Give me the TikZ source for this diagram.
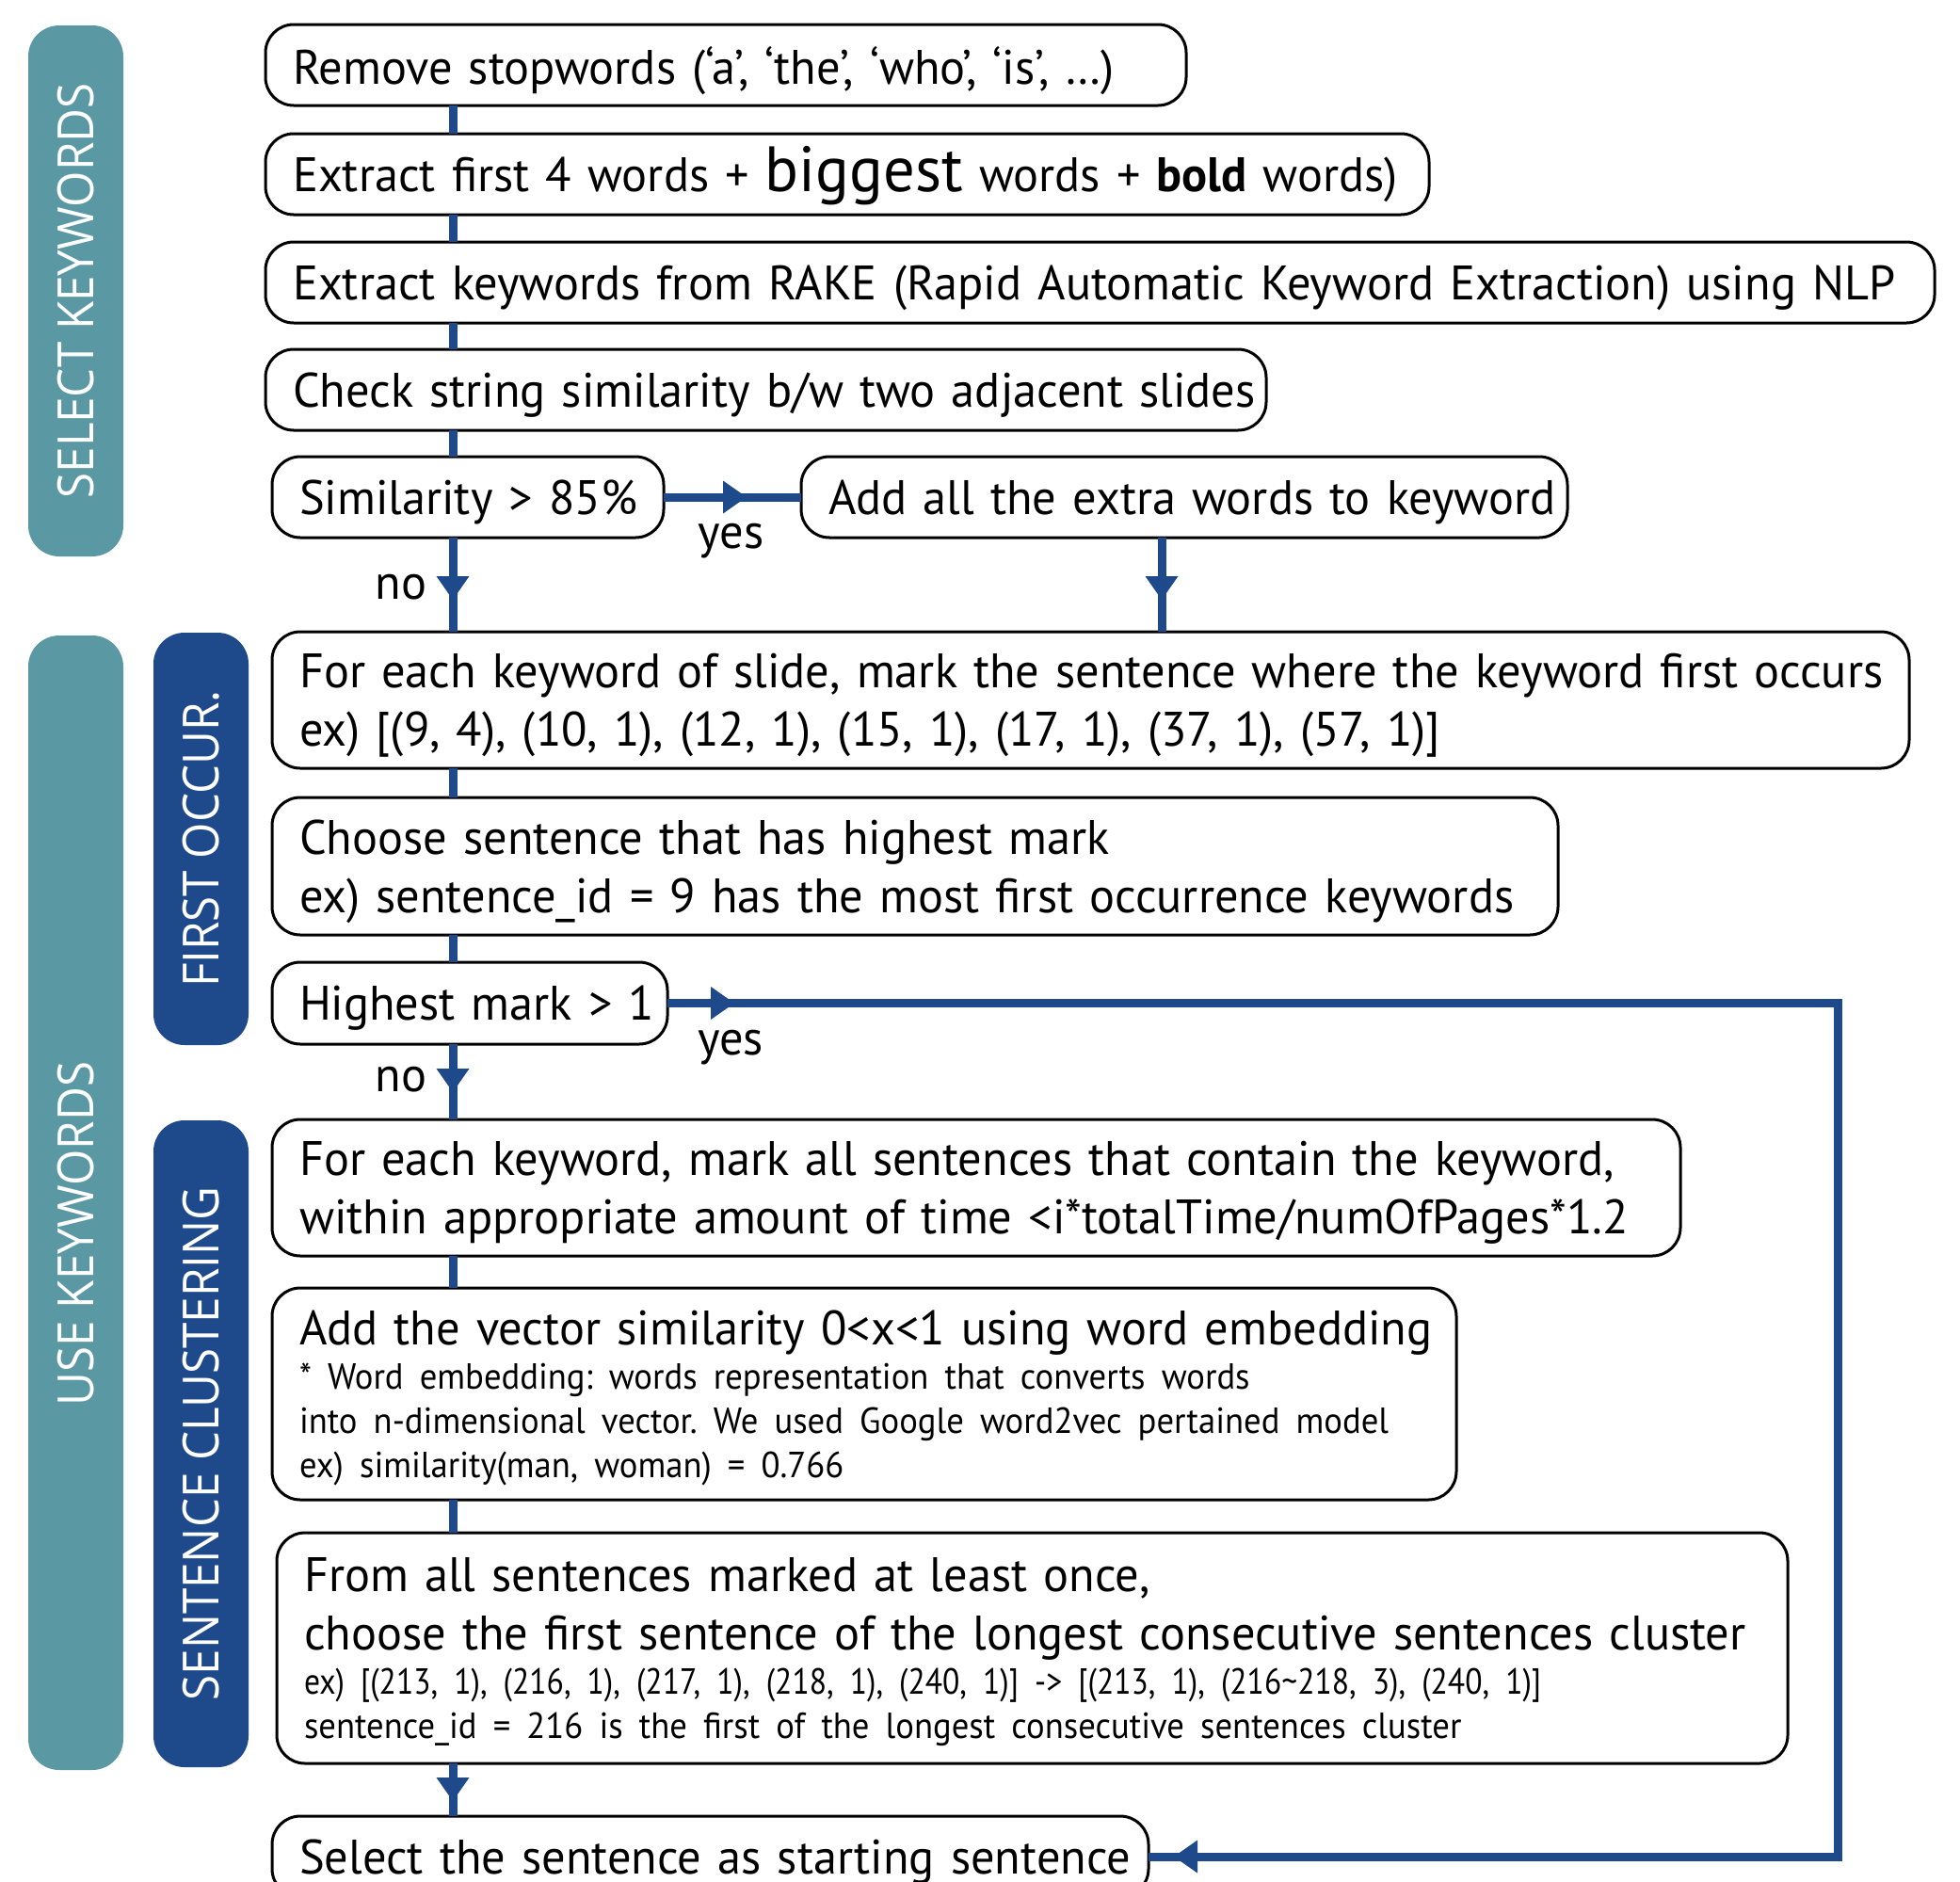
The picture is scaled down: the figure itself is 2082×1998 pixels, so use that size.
\documentclass[tikz,border=0pt]{standalone}
\usepackage{fontspec}
\setmainfont{PT Sans}[FakeStretch = 0.98, WordSpace = 0.8]
\newfontfamily\smallfont{PT Sans}[FakeStretch = 0.95, WordSpace = 0.8]
\newfontfamily\narrowfont{PT Sans}[FakeStretch = 0.87, WordSpace = 0.8]
\newfontfamily\bandfont{Open Sans}[FakeStretch = 0.93]
\usepackage{tikz}
\usetikzlibrary{
  positioning,
  arrows.meta,
  decorations.markings,
}
\definecolor{bandteal}{HTML}{5A98A3}
\definecolor{bandblue}{HTML}{1E4A8B}
\definecolor{flowblue}{HTML}{1E4A8B}
\setlength{\parindent}{0pt}
\frenchspacing
\newcommand{\mtxt}{\fontsize{51.4pt}{62pt}\selectfont}
\newcommand{\stxt}{\smallfont\fontsize{38.6pt}{47pt}\selectfont}
\newcommand{\ntxt}{\narrowfont\fontsize{38.6pt}{47pt}\selectfont}
\newcommand{\btxt}{\fontsize{68pt}{62pt}\selectfont}
\newcommand{\bandtxt}{\bandfont\fontsize{53pt}{60pt}\selectfont}
\tikzset{
  >={Triangle[width = 35pt, length = 25pt, line width = 0pt]},
  stepbox/.style = {
    draw = black,
    line width = 3pt,
    rounded corners = 30pt,
    inner xsep = 29pt,
    inner ysep = 0pt,
    outer sep = 0pt,
    minimum height = 86pt,
    text width = #1,
    font = \mtxt,
    execute at begin node = {\rightskip = 0pt minus 400pt\relax},
    execute at end node = {\par\kern-\prevdepth}
  },
  band/.style = {
    rotate = 90,
    fill = #1,
    rounded corners = 33pt,
    minimum height = 101pt,
    inner sep = 0pt,
    text = white,
    font = \bandtxt
  },
  flow/.style = {
    draw = flowblue,
    line width = 9pt
  },
  tip/.style = {
    postaction = {decorate},
    decoration = {markings, mark = at position #1 with {\arrow{>}}}
  },
  tips/.style 2 args = {
    postaction = {decorate},
    decoration = {markings,
      mark = at position #1 with {\arrow{>}},
      mark = at position #2 with {\arrow{>}}}
  },
  yes/.style = {below = 24pt, inner sep = 0pt, font = \mtxt},
  no/.style = {left = 23pt, inner sep = 0pt, font = \mtxt},
}

\begin{document}
\begin{tikzpicture}[x = 1pt, y = -1pt]
  \useasboundingbox (0, 0) rectangle (2082, 1998);
  \node[band = bandteal, minimum width = 564pt] (selk) at (80.5, 309) {SELECT KEYWORDS};
  \node[band = bandteal, minimum width = 1205pt] (usek) at (80.5, 1277.5) {USE KEYWORDS\hspace*{66pt}};
  \node[band = bandblue, minimum width = 438pt] (focc) at (213.5, 891) {FIRST OCCUR.};
  \node[band = bandblue, minimum width = 687pt] (sclu) at (213.5, 1533.5) {SENTENCE CLUSTERING};

  \node[stepbox = 920pt, anchor = north west] (rm) at (282, 26)
    {Remove stopwords (‘a’, ‘the’, ‘who’, ‘is’, …)};
  \node[stepbox = 1178pt, below right = 30pt and 0pt of rm.south west] (ex4)
    {Extract first 4 words + \smash{\btxt biggest} words + \textbf{bold} words)};
  \node[stepbox = 1715pt, below right = 29pt and 0pt of ex4.south west] (rake)
    {Extract keywords from RAKE (Rapid Automatic Keyword Extraction) using NLP};
  \node[stepbox = 1005pt, below right = 28pt and 0pt of rake.south west] (chk)
    {Check string similarity b/w two adjacent slides};
  \node[stepbox = 358pt, below right = 28pt and 7pt of chk.south west] (sim)
    {Similarity > 85\%};
  \node[stepbox = 756pt, right = 146pt of sim] (add)
    {Add all the extra words to keyword};
  \node[stepbox = 1681pt, minimum height = 145pt, below right = 100pt and 0pt of sim.south west] (fo)
    {For each keyword of slide, mark the sentence where the keyword first occurs\\
     ex) [(9, 4), (10, 1), (12, 1), (15, 1), (17, 1), (37, 1), (57, 1)]};
  \node[stepbox = 1308pt, minimum height = 146pt, below right = 31pt and 0pt of fo.south west] (ch)
    {Choose sentence that has highest mark\\
     ex) sentence\_id = 9 has the most first occurrence keywords};
  \node[stepbox = 362pt, minimum height = 87pt, below right = 29pt and 0pt of ch.south west] (hm)
    {Highest mark > 1};
  \node[stepbox = 1438pt, minimum height = 145pt, below right = 80pt and 0pt of hm.south west] (fe)
    {For each keyword, mark all sentences that contain the keyword,\\
     within appropriate amount of time <i*totalTime/numOfPages*1.2};
  \node[stepbox = 1200pt, minimum height = 225pt, below right = 34pt and 0pt of fe.south west] (av)
    {Add the vector similarity 0<x<1 using word embedding\par
     {\stxt * Word embedding: words representation that converts words\\
      into n-dimensional vector. We used Google word2vec pertained model\\
      ex) similarity(man, woman) = 0.766\par}};
  \node[stepbox = 1547pt, minimum height = 245pt, below right = 35pt and 5pt of av.south west] (fa)
    {From all sentences marked at least once,\\
     choose the first sentence of the longest consecutive sentences cluster\par
     {\stxt {\ntxt ex) [(213, 1), (216, 1), (217, 1), (218, 1), (240, 1)] -> [(213, 1), (216\textasciitilde218, 3), (240, 1)]}\\
      sentence\_id = 216 is the first of the longest consecutive sentences cluster\par}};
  \node[stepbox = 873pt, below right = 56pt and -5pt of fa.south west] (sel)
    {Select the sentence as starting sentence};

  \coordinate (sp) at (481, 0);
  \coordinate (ad) at (1234, 0);
  \coordinate (lp) at (1952, 0);
  \foreach \a/\b in {rm/ex4, ex4/rake, rake/chk, chk/sim, fo/ch, ch/hm, fe/av, av/fa}
    \draw[flow] (\a.south -| sp) -- (\b.north -| sp);
  \draw[flow, tip = 88pt] (sim) -- node[yes, pos = 0.49] {yes} (add);
  \draw[flow, tip = -34pt] (sim.south -| sp) -- node[no, pos = 0.53] {no} (fo.north -| sp);
  \draw[flow, tip = -34pt] (add.south -| ad) -- (fo.north -| ad);
  \draw[flow, tip = 51pt] (hm.south -| sp) -- node[no, pos = 0.475] {no} (fe.north -| sp);
  \draw[flow, tips = {71pt}{-27pt}] (hm) -- node[yes, pos = 0.054] {yes} (hm -| lp) |- (sel);
  \draw[flow, tip = 40pt] (fa.south -| sp) -- (sel.north -| sp);
\end{tikzpicture}
\end{document}
